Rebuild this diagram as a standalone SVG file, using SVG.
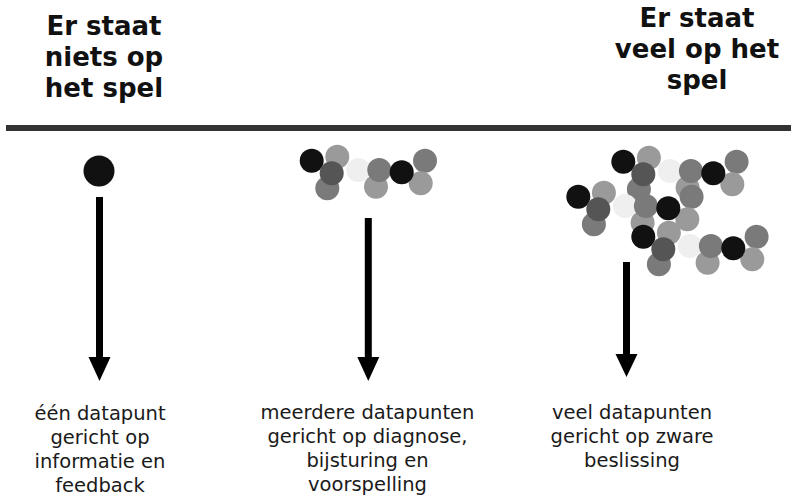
<svg xmlns="http://www.w3.org/2000/svg" xmlns:xlink="http://www.w3.org/1999/xlink" width="791" height="499" viewBox="0 0 791 499">
<style>
.title{font-family:"DejaVu Sans","Verdana",sans-serif;font-weight:bold;font-size:26px;fill:#111;text-anchor:middle}
.label{font-family:"DejaVu Sans","Verdana",sans-serif;font-size:19.5px;fill:#1a1a1a;text-anchor:middle}
.k{fill:#111}
.d{fill:#555}
.m{fill:#7a7a7a}
.l{fill:#9a9a9a}
.w{fill:#efefef}
.shaft{stroke:#000;stroke-width:7;fill:none}
</style>
<defs>
<g id="pattern">
<circle class="l" cx="25.6" cy="-4" r="12"/>
<circle class="k" cx="0" cy="0" r="12"/>
<circle class="m" cx="15.6" cy="27.6" r="12"/>
<circle class="d" cx="20" cy="12.6" r="12"/>
<circle class="w" cx="46.6" cy="9.3" r="12"/>
<circle class="l" cx="64.3" cy="26" r="12"/>
<circle class="m" cx="67.6" cy="9.3" r="12"/>
<circle class="m" cx="113.3" cy="0" r="12"/>
<circle class="l" cx="109" cy="22.6" r="12"/>
<circle class="k" cx="90" cy="11.6" r="12"/>
</g>
</defs>
<g id="title-left">
<text class="title" x="104" y="35">Er staat</text>
<text class="title" x="104" y="66">niets op</text>
<text class="title" x="104" y="97">het spel</text>
</g>
<g id="title-right">
<text class="title" x="697" y="27">Er staat</text>
<text class="title" x="697" y="58">veel op het</text>
<text class="title" x="697" y="89">spel</text>
</g>
<rect id="divider" x="6" y="125" width="785" height="6" fill="#333"/>
<g id="node-one">
<circle class="k" cx="99" cy="171" r="15.5"/>
</g>
<g id="node-several">
<use xlink:href="#pattern" href="#pattern" transform="translate(311.7,160.7)"/>
</g>
<g id="node-many">
<use xlink:href="#pattern" href="#pattern" transform="translate(623.3,161.7)"/>
<use xlink:href="#pattern" href="#pattern" transform="translate(578.3,196.7)"/>
<use xlink:href="#pattern" href="#pattern" transform="translate(643.3,236.7)"/>
</g>
<g id="connectors">
<line class="shaft" x1="99.5" y1="197" x2="99.5" y2="360"/>
<polygon points="88.5,357 110.5,357 99.5,381"/>
<line class="shaft" x1="368.3" y1="218" x2="368.3" y2="360"/>
<polygon points="357.3,357 379.3,357 368.3,381"/>
<line class="shaft" x1="626.5" y1="262" x2="626.5" y2="357"/>
<polygon points="615.5,354 637.5,354 626.5,377"/>
</g>
<g id="label-one">
<text class="label" x="100" y="420">één datapunt</text>
<text class="label" x="100" y="444">gericht op</text>
<text class="label" x="100" y="468">informatie en</text>
<text class="label" x="100" y="492">feedback</text>
</g>
<g id="label-several">
<text class="label" x="367.5" y="419">meerdere datapunten</text>
<text class="label" x="367.5" y="443">gericht op diagnose,</text>
<text class="label" x="367.5" y="467">bijsturing en</text>
<text class="label" x="367.5" y="491">voorspelling</text>
</g>
<g id="label-many">
<text class="label" x="632" y="419">veel datapunten</text>
<text class="label" x="632" y="443">gericht op zware</text>
<text class="label" x="632" y="467">beslissing</text>
</g>
</svg>
